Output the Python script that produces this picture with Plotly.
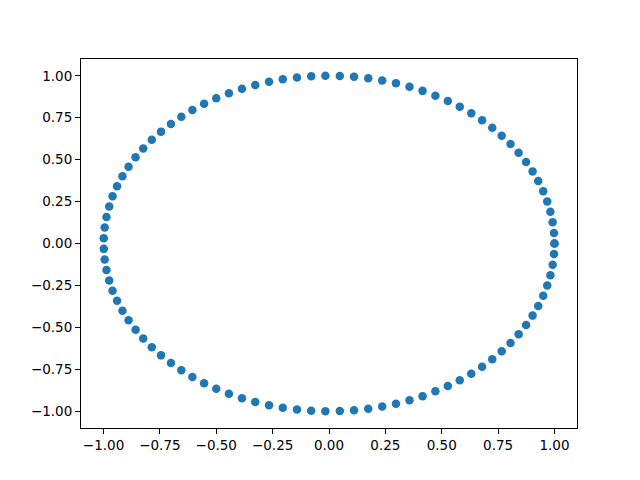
import plotly.graph_objects as go

# points, going round the circle counter-clockwise from (1, 0)
x_vals = [1.000, 0.998, 0.992, 0.982, 0.968, 0.950, 0.928, 0.903, 0.874, 0.841,
          0.805, 0.766, 0.724, 0.679, 0.631, 0.580, 0.527, 0.472, 0.415, 0.357,
          0.297, 0.236, 0.174, 0.111, 0.048, -0.016, -0.079, -0.142, -0.205, -0.266,
          -0.327, -0.386, -0.444, -0.500, -0.554, -0.606, -0.655, -0.701, -0.745, -0.786,
          -0.824, -0.858, -0.889, -0.916, -0.940, -0.960, -0.975, -0.987, -0.995, -0.999,
          -0.999, -0.995, -0.987, -0.975, -0.960, -0.940, -0.916, -0.889, -0.858, -0.824,
          -0.786, -0.745, -0.701, -0.655, -0.606, -0.554, -0.500, -0.444, -0.386, -0.327,
          -0.266, -0.205, -0.142, -0.079, -0.016, 0.048, 0.111, 0.174, 0.236, 0.297,
          0.357, 0.415, 0.472, 0.527, 0.580, 0.631, 0.679, 0.724, 0.766, 0.805,
          0.841, 0.874, 0.903, 0.928, 0.950, 0.968, 0.982, 0.992, 0.998, 1.000]
y_vals = [0.000, 0.063, 0.127, 0.189, 0.251, 0.312, 0.372, 0.430, 0.486, 0.541,
          0.593, 0.643, 0.690, 0.735, 0.776, 0.815, 0.850, 0.881, 0.910, 0.934,
          0.955, 0.972, 0.985, 0.994, 0.999, 1.000, 0.997, 0.990, 0.979, 0.964,
          0.945, 0.922, 0.896, 0.866, 0.833, 0.796, 0.756, 0.713, 0.667, 0.618,
          0.567, 0.514, 0.458, 0.401, 0.342, 0.282, 0.220, 0.158, 0.095, 0.032,
          -0.032, -0.095, -0.158, -0.220, -0.282, -0.342, -0.401, -0.458, -0.514, -0.567,
          -0.618, -0.667, -0.713, -0.756, -0.796, -0.833, -0.866, -0.896, -0.922, -0.945,
          -0.964, -0.979, -0.990, -0.997, -1.000, -0.999, -0.994, -0.985, -0.972, -0.955,
          -0.934, -0.910, -0.881, -0.850, -0.815, -0.776, -0.735, -0.690, -0.643, -0.593,
          -0.541, -0.486, -0.430, -0.372, -0.312, -0.251, -0.189, -0.127, -0.063, 0.000]

tick_vals = [-1.0, -0.75, -0.5, -0.25, 0.0, 0.25, 0.5, 0.75, 1.0]
tick_text = ["\u22121.00", "\u22120.75", "\u22120.50", "\u22120.25", "0.00",
             "0.25", "0.50", "0.75", "1.00"]

fig = go.Figure()
fig.add_trace(go.Scatter(
    x=x_vals,
    y=y_vals,
    mode="markers",
    marker=dict(color="#1f77b4", size=8.5, line=dict(width=0)),
))

axis_style = dict(
    tickmode="array",
    tickvals=tick_vals,
    ticktext=tick_text,
    range=[-1.1, 1.1],
    showgrid=False,
    zeroline=False,
    showline=True,
    linecolor="black",
    linewidth=1.1,
    mirror=True,
    ticks="outside",
    ticklen=5,
    tickwidth=1.1,
    tickcolor="black",
    tickfont=dict(family="DejaVu Sans", size=13.5, color="black"),
)

fig.update_xaxes(**axis_style)
fig.update_yaxes(**axis_style)
fig.update_layout(
    width=640,
    height=480,
    margin=dict(l=73, r=71, t=51, b=60),
    paper_bgcolor="white",
    plot_bgcolor="white",
    showlegend=False,
)

fig.write_html("out.html")
